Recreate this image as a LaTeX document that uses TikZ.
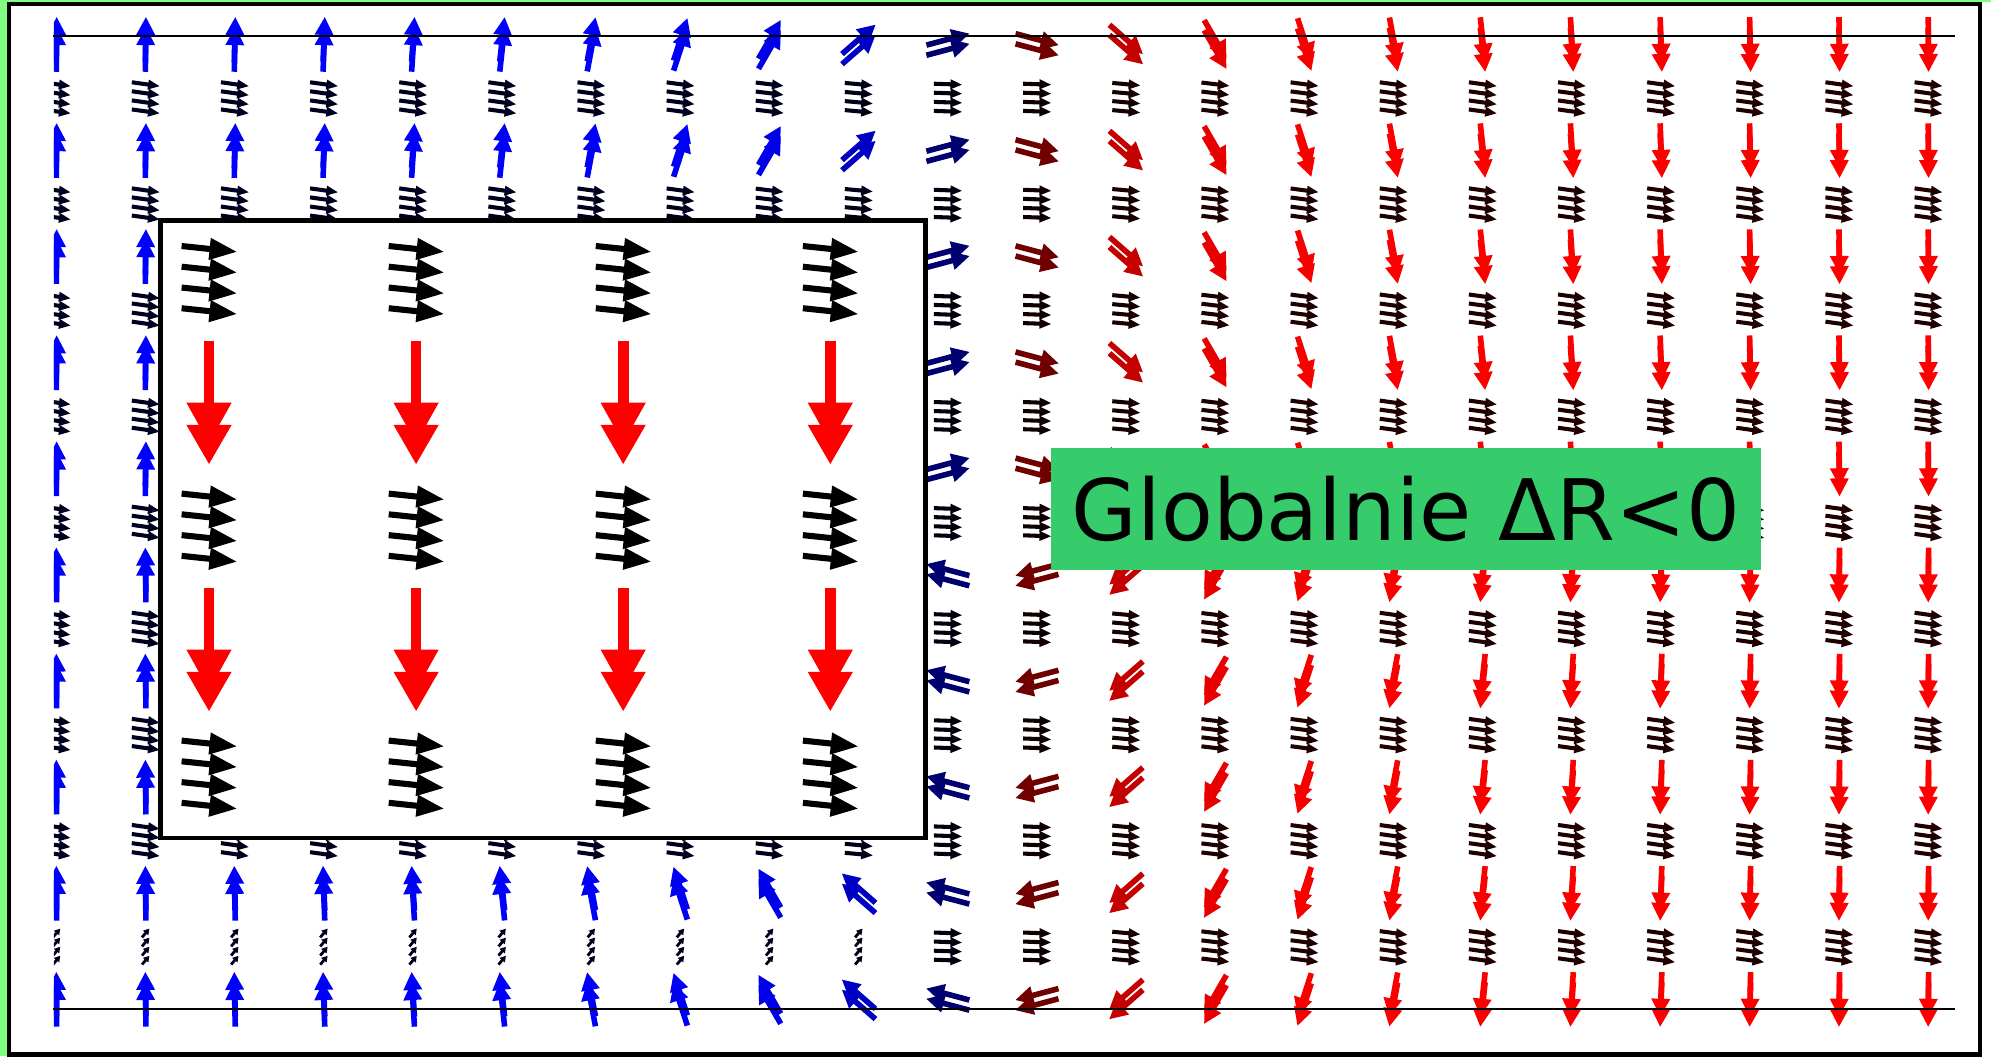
\documentclass[tikz,border=0pt]{standalone}
\usepackage{fontspec}
\newfontfamily\labelfont{DejaVu Sans}
\usetikzlibrary{positioning}

\definecolor{framegreen}{RGB}{128,255,128}
\definecolor{labelgreen}{RGB}{54,204,108}

\tikzset{
  boundline/.style={black, line width=0.16mm},
  domainbox/.style={draw=black, fill=white, line width=0.35mm},
  outerframe/.style={draw=black, line width=0.36mm},
  labelbox/.style={fill=labelgreen, minimum width=55.9mm, minimum height=9.6mm,
    inner sep=0pt, font=\labelfont\fontsize{19pt}{22pt}\selectfont}
}

% one spin arrow, centred at (x,y), angle, colour
\newcommand{\spinarr}[4]{%
  \fill[#4, shift={(#1,#2)}, rotate=#3]
    (-17.5,-2.2) -- (3.5,-2.2) -- (3.5,-7.5) -- (17.5,0) -- (3.5,7.5)
    -- (3.5,2.2) -- (-17.5,2.2) -- cycle;}

% four small stacked arrows
\newcommand{\layers}[4]{%
  \foreach \dy in {-10.7,-3.6,3.6,10.7}
    \fill[#4, shift={(#1,#2+\dy)}, rotate=#3]
      (-11,-1.6) -- (2,-1.6) -- (2,-4) -- (11,0) -- (2,4)
      -- (2,1.6) -- (-11,1.6) -- cycle;}

% squeezed stack near the lower edge
\newcommand{\shortlayers}[3]{%
  \foreach \dy in {-10.7,-3.6,3.6,10.7}
    \fill[#3, shift={(#1,#2+\dy)}, rotate=50]
      (-4.5,-1.1) -- (0,-1.1) -- (0,-2.8) -- (4.5,0) -- (0,2.8)
      -- (0,1.1) -- (-4.5,1.1) -- cycle;}

% big stack inside the box
\newcommand{\bigstack}[2]{%
  \foreach \dy in {-24.5,-8.2,8.2,24.5}
    \fill[black, shift={(#1,#2+\dy)}, rotate=-6]
      (-21.7,-2.4) -- (0.5,-2.4) -- (0.5,-8.8) -- (21.7,0) -- (0.5,8.8)
      -- (0.5,2.4) -- (-21.7,2.4) -- cycle;}

% big red arrow pointing down
\newcommand{\bigdown}[2]{%
  \fill[red] (#1-4.2,#2) rectangle (#1+4.2,#2+56);
  \fill[red] (#1-17.8,#2+48.6) -- (#1+17.8,#2+48.6) -- (#1,#2+80.5) -- cycle;
  \fill[red] (#1-17.8,#2+66.1) -- (#1+17.8,#2+66.1) -- (#1,#2+96.9) -- cycle;}

\begin{document}
\begin{tikzpicture}[x=0.1mm, y=-0.1mm]
  \useasboundingbox (0,0) rectangle (1568,832);
  \fill[white] (0,0) rectangle (1568,832);
  \fill[framegreen] (0,0) rectangle (5.4,832);
  \fill[framegreen] (0,0) rectangle (1568,1.5);

  % field of spins
  \begin{scope}
    \clip (42.5,0) rectangle (1545,832);
    \foreach \c in {0,...,21} {
      \pgfmathsetmacro\xx{44.5+70.2*\c}
      \pgfmathsetmacro\tw{2*atan(exp((\c-10.5)/1.9))}
      \pgfmathsetmacro\sv{cos(\tw)}
      \pgfmathsetmacro\pct{int(100*abs(\sv)^0.6)}
      \pgfmathsetmacro\tilt{-8*abs(\sv)}
      \ifdim\sv pt>0pt \colorlet{acol}{blue!\pct!black}\else\colorlet{acol}{red!\pct!black}\fi
      \colorlet{gcol}{acol!12!black}
      \foreach \r in {0,...,9} {
        \pgfmathsetmacro\yy{35+83.56*\r}
        \pgfmathsetmacro\ang{\r<5 ? 90-\tw : 90+\tw}
        \spinarr{\xx}{\yy-4}{\ang}{acol}
        \spinarr{\xx}{\yy+4}{\ang}{acol}
      }
      \foreach \r in {0,...,8} {
        \pgfmathsetmacro\yy{77+83.56*\r}
        \ifnum\r=8 \ifnum\c<10 \shortlayers{\xx}{\yy}{gcol}\else\layers{\xx}{\yy}{\tilt}{gcol}\fi
        \else \layers{\xx}{\yy}{\tilt}{gcol}\fi
      }
    }
  \end{scope}
  \draw[boundline] (42,28) -- (1540,28);
  \draw[boundline] (42,794.5) -- (1540,794.5);

  % domain box
  \draw[domainbox] (126.5,173.5) rectangle (729,660);
  \foreach \j in {0,...,3} {
    \pgfmathsetmacro\bx{164.6+163.1*\j}
    \foreach \by in {220.5,415.5,610} {\bigstack{\bx}{\by}}
    \foreach \bt in {268.5,463} {\bigdown{\bx}{\bt}}
  }

  \node[labelbox] (globalR) at (1107.5,401) {Globalnie ΔR<0};

  \draw[outerframe] (7.2,3.3) rectangle (1559.3,830.3);
\end{tikzpicture}
\end{document}
